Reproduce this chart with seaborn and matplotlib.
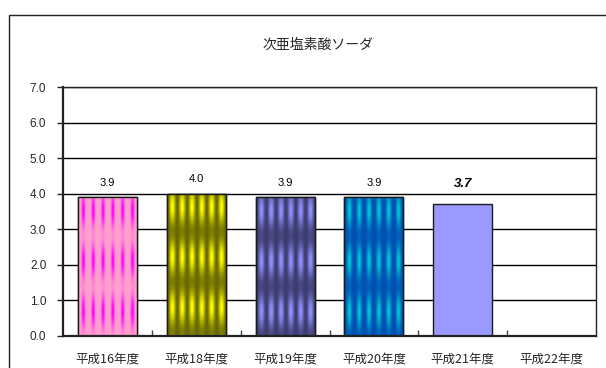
import numpy as np
import pandas as pd
import matplotlib
matplotlib.use("Agg")
import matplotlib.pyplot as plt
from matplotlib.patches import Rectangle
import seaborn as sns

# Data
categories = ["平成16年度", "平成18年度", "平成19年度", "平成20年度", "平成21年度", "平成22年度"]
values = [3.9, 4.0, 3.9, 3.9, 3.7, np.nan]
value_labels = ["3.9", "4.0", "3.9", "3.9", "3.7", ""]
y_ticks = [0.0, 1.0, 2.0, 3.0, 4.0, 5.0, 6.0, 7.0]
title = "次亜塩素酸ソーダ"

# Fill styles: (base colour, highlight colour, stripe sharpness); None = flat
textures = [
    ((255, 160, 205), (255, 0, 255), 3.0),
    ((105, 105, 0), (255, 255, 0), 1.0),
    ((60, 60, 110), (145, 145, 255), 1.0),
    ((0, 80, 180), (0, 200, 215), 1.5),
    None,
    None,
]
flat_color = "#9999FF"

sns.set_theme(style="white")
jp = ["Noto Sans CJK JP", "DejaVu Sans"]
num_font = ["Liberation Sans Narrow", "Liberation Sans", "DejaVu Sans"]
plt.rcParams["font.family"] = jp

df = pd.DataFrame({"cat": categories, "val": values})

fig = plt.figure(figsize=(6.06, 3.68), dpi=100)
fig.patch.set_facecolor("white")
W, H = 606, 368
ax = fig.add_axes([63 / W, 1 - 336 / H, (596 - 63) / W, (336 - 87) / H])

sns.barplot(data=df, x="cat", y="val", order=categories, color=flat_color,
            width=0.665, edgecolor="#1a1a1a", linewidth=1.0, saturation=1,
            ax=ax, zorder=3)

ax.set_xlabel("")
ax.set_ylabel("")

# gridlines
ax.set_yticks(y_ticks)
ax.set_yticklabels([f"{t:.1f}" for t in y_ticks], family=num_font, fontsize=8.5)
for t in y_ticks[1:]:
    ax.axhline(t, color="black", linewidth=1.0, zorder=1)


def texture(base, hi, sharp, w_px, h_px, stripes, period_px, offset_px):
    xs = np.linspace(0, stripes, w_px)
    ys = (np.arange(h_px) + offset_px) / period_px
    fu = np.cos(np.pi * (xs % 1.0 - 0.5)) ** (2 * sharp)
    gv = 0.15 + 0.85 * np.sin(np.pi * (ys % 1.0)) ** 2
    m = gv[:, None] * fu[None, :]
    base = np.array(base, float) / 255
    hi = np.array(hi, float) / 255
    return base[None, None, :] * (1 - m[..., None]) + hi[None, None, :] * m[..., None]


# textured fills clipped to each bar
bars = list(ax.patches)
vals_ok = [(i, v) for i, v in enumerate(values) if not np.isnan(v)]
px_per_unit = 35.5
for patch, (i, v) in zip(bars, vals_ok):
    tex = textures[i]
    if tex is None:
        continue
    x0 = patch.get_x()
    w = patch.get_width()
    h_px = max(int(v * px_per_unit), 2)
    img = texture(tex[0], tex[1], tex[2], 60, h_px, 6, 50, 12)
    im = ax.imshow(img, extent=(x0, x0 + w, 0, v), origin="upper",
                   aspect="auto", interpolation="bilinear", zorder=3.5)
    im.set_clip_path(patch)
    ax.add_patch(Rectangle((x0, 0), w, v, fill=False, edgecolor="#1a1a1a",
                           linewidth=1.0, zorder=4))

ax.set_xlim(-0.5, len(categories) - 0.5)
ax.set_ylim(0, 7.0)

# value labels above bars
for i, v in vals_ok:
    if i == 4:
        ax.annotate(value_labels[i], (i, v), xytext=(0, 10), textcoords="offset points",
                    ha="center", va="bottom", fontsize=9.5, fontweight="bold",
                    fontstyle="italic", family=num_font, color="black")
    else:
        ax.annotate(value_labels[i], (i, v), xytext=(0, 7), textcoords="offset points",
                    ha="center", va="bottom", fontsize=8, family=num_font,
                    color="black")

# axes frame
for s in ["left", "bottom"]:
    ax.spines[s].set_color("#222222")
    ax.spines[s].set_linewidth(1.6)
for s in ["top", "right"]:
    ax.spines[s].set_color("#222222")
    ax.spines[s].set_linewidth(1.0)
for s in ax.spines.values():
    s.set_zorder(5)

ax.tick_params(axis="y", which="major", direction="out", length=4, width=1,
               color="#222222", pad=8, left=True)
ax.set_xticks(range(len(categories)))
ax.set_xticklabels(categories, fontsize=9, family=jp)
ax.tick_params(axis="x", which="major", length=0, pad=12)
ax.set_xticks(np.arange(0.5, len(categories) - 1, 1.0), minor=True)
ax.tick_params(axis="x", which="minor", direction="in", length=4, width=1,
               color="#444444", bottom=True)

fig.text(318 / W, 1 - 45 / H, title, ha="center", va="center", fontsize=10,
         family=jp)

# outer chart frame
fig.patches.append(Rectangle((9 / W, -0.1), 1.2, 1 - 15 / H + 0.1,
                             transform=fig.transFigure, fill=False,
                             edgecolor="#222222", linewidth=1.0))

fig.savefig("out.png", dpi=100, facecolor="white")
